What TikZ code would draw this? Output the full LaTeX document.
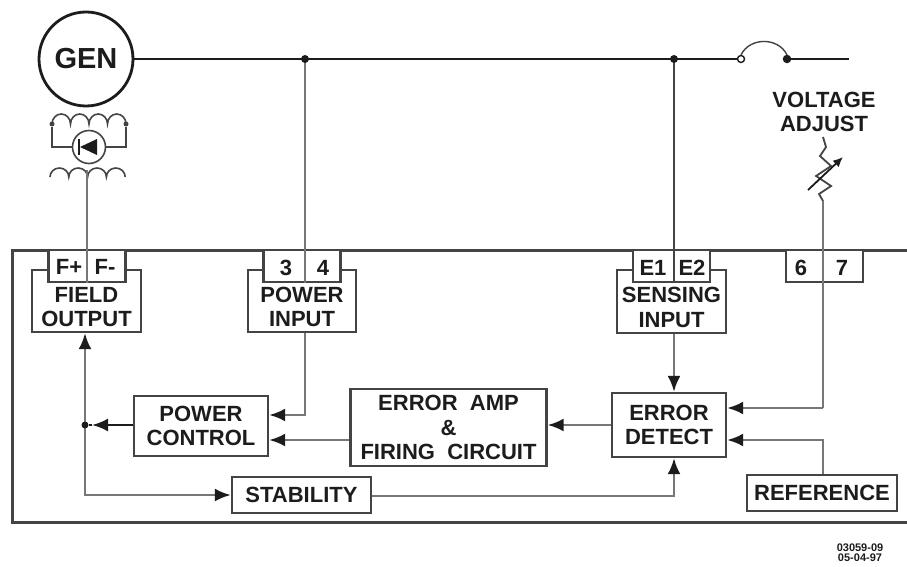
\documentclass[tikz,border=0pt]{standalone}
\usepackage{fontspec}
\setmainfont{Liberation Sans}
\usetikzlibrary{arrows.meta,calc}
\definecolor{ink}{HTML}{1C1C1C}
\definecolor{wire}{HTML}{777777}
\definecolor{edge}{HTML}{444444}
\tikzset{
  x=1pt,y=-1pt,
  bigfont/.style={font=\fontsize{22}{24.5}\selectfont\bfseries},
  boxbase/.style={draw=edge,line width=2.4pt,fill=white,inner sep=0pt,text=ink,align=center,bigfont},
  rectbox/.style 2 args={boxbase,minimum width=#1,minimum height=#2},
  terminal/.style={draw=edge,line width=2.4pt,fill=white,inner sep=0pt,minimum width=77pt,minimum height=32pt},
  termtext/.style={text=ink,inner sep=0pt,bigfont},
  blocktext/.style={text=ink,inner sep=0pt,align=center,bigfont},
  busline/.style={draw=ink,line width=2.8pt},
  wireline/.style={draw=wire,line width=2.4pt},
  sigline/.style={draw=wire,line width=2.4pt,-{Latex[length=16pt,width=13pt,color=ink,fill=ink]}},
  junction/.style={circle,fill=ink,inner sep=0pt,minimum size=8pt},
  contact/.style={circle,draw=ink,fill=white,line width=1.4pt,inner sep=0pt,minimum size=7pt},
  coil/.style={draw=edge,line width=1.6pt},
  frame/.style={draw=edge,line width=3pt},
}
\begin{document}
\begin{tikzpicture}
\useasboundingbox[fill=white] (0,0) rectangle (907,567);
% housing
\coordinate (frTR) at (907,250);
\coordinate (frBR) at (907,522);
\draw[frame] (frTR) -- (12,250) -- (12,522) -- (frBR);
% generator
\node[circle,draw=ink,line width=2.8pt,minimum size=94pt,inner sep=0pt,font=\fontsize{29}{30}\selectfont\bfseries,text=ink] (gen) at (86,59) {GEN};
\coordinate (busP) at (305,59);
\coordinate (busS) at (674,59);
\node[contact] (c1) at (741,59) {};
\node[contact,fill=ink] (c2) at (787,59) {};
\coordinate (busE) at (849,59);
\draw[busline] (gen.east) -- (busP) -- (busS) -- (c1.west);
\draw[busline] (c2.east) -- (busE);
\draw[draw=edge,line width=1.4pt] (c1.north) .. controls (750,37) and (778,37) .. (c2.north);
% blocks
\node[rectbox={109pt}{62pt},label={[blocktext,yshift=-6pt]center:FIELD\\OUTPUT}] (field) at (86.5,301) {};
\node[rectbox={108pt}{62pt},label={[blocktext,yshift=-6pt]center:POWER\\INPUT}] (pinput) at (302,301) {};
\node[rectbox={109pt}{63pt},label={[blocktext,yshift=-6pt]center:SENSING\\INPUT}] (sensing) at (671.5,301.5) {};
\node[terminal] (tF) at (87,266) {};
\node[terminal] (tP) at (302,266) {};
\node[terminal] (tE) at (671.5,266) {};
\node[terminal] (tV) at (824.5,266) {};
\node[termtext] (lFp) at (69,267) {F+};
\node[termtext] (lFm) at (105,267) {F-};
\node[termtext] (l3) at (286,268) {3};
\node[termtext] (l4) at (323,268) {4};
\node[termtext] (lE1) at (653,268) {E1};
\node[termtext] (lE2) at (692,268) {E2};
\node[termtext] (l6) at (801,268) {6};
\node[termtext] (l7) at (842,268) {7};
\node[rectbox={134pt}{60pt}] (pctl) at (201,426) {POWER\\CONTROL};
\node[rectbox={196pt}{77pt}] (eamp) at (448.5,427.5) {ERROR\ \ AMP\\\&\\FIRING\ \ CIRCUIT};
\node[rectbox={114pt}{64pt}] (edet) at (669,425) {ERROR\\DETECT};
\node[rectbox={139pt}{36pt}] (stab) at (301.5,495) {STABILITY};
\node[rectbox={150pt}{36pt}] (refb) at (822,493) {REFERENCE};
% exciter
\coordinate (ca) at (52,124);
\coordinate (cb) at (126,124);
\node[circle,draw=edge,line width=1.6pt,minimum size=33pt,inner sep=0pt] (rect) at (89,147) {};
\draw[coil] (ca) arc[start angle=180,end angle=0,x radius=9.25pt,y radius=10pt]
  arc[start angle=180,end angle=0,x radius=9.25pt,y radius=10pt]
  arc[start angle=180,end angle=0,x radius=9.25pt,y radius=10pt]
  arc[start angle=180,end angle=0,x radius=9.25pt,y radius=10pt];
\node[circle,fill=edge,inner sep=0pt,minimum size=5pt] (da) at (ca) {};
\node[circle,fill=edge,inner sep=0pt,minimum size=5pt] (db) at (cb) {};
\draw[coil] (da) |- (rect.west);
\draw[coil] (db) |- (rect.east);
\fill[ink] (80,147) -- (97,139) -- (97,155) -- cycle;
\draw[ink,line width=1.8pt] (79,139) -- (79,155);
\coordinate (cl) at (50,177);
\draw[coil] (cl) arc[start angle=180,end angle=0,x radius=9.4pt,y radius=9pt]
  arc[start angle=180,end angle=0,x radius=9.4pt,y radius=9pt]
  arc[start angle=180,end angle=0,x radius=9.4pt,y radius=9pt]
  arc[start angle=180,end angle=0,x radius=9.4pt,y radius=9pt];
\coordinate (coilTap) at (87,170);
% wires through terminals
\draw[wireline] (coilTap) -- (tF.south -| coilTap);
\draw[wireline] (busP) -- (tP.south -| busP);
\draw[draw=edge,line width=2.4pt] (busS) -- (tE.south -| busS);
\node[junction] (jP) at (busP) {};
\node[junction] (jS) at (busS) {};
% voltage adjust
\node[blocktext] (vadj) at (824,112) {VOLTAGE\\ADJUST};
\coordinate (rTop) at (823,137);
\coordinate (rBot) at (823,201);
\draw[draw=edge,line width=1.8pt,line join=miter] (rTop) -- (826,147) -- (820,156) -- (831,166) -- (816,176) -- (831,186) -- (819,194) -- (rBot);
\coordinate (vaS) at (808,190);
\coordinate (vaE) at (843,157);
\draw[draw=ink,line width=1.8pt,-{Latex[length=10pt,width=9pt]}] (vaS) -- (vaE);
\coordinate (sev) at (823,408);
\draw[wireline] (rBot) -- (sev);
% signals
\coordinate (j1) at (85,425);
\coordinate (jt) at (92,425);
\coordinate (pw) at (305,415);
\coordinate (sb) at (85,495);
\draw[sigline] (pinput.south -| pw) |- (pctl.east |- pw);
\draw[sigline] (eamp.west |- 0,440) -- (pctl.east |- 0,440);
\draw[sigline] (edet.west) -- (eamp.east |- edet.west);
\draw[sigline] (sensing.south -| busS) -- (edet.north -| busS);
\draw[sigline] (sev) -- (edet.east |- sev);
\coordinate (rf) at (823,440);
\draw[sigline] (refb.north -| rf) -- (rf) -- (edet.east |- rf);
\draw[sigline] (sb) -- (j1) -- (field.south -| j1);
\draw[sigline] (j1) |- (stab.west |- sb);
\coordinate (sr) at (674,496);
\draw[sigline] (stab.east |- sr) -- (sr) -- (edet.south -| sr);
\draw[draw=ink,line width=2.4pt,-{Latex[length=16pt,width=13pt]}] (pctl.west |- j1) -- (jt);
\node[circle,fill=ink,inner sep=0pt,minimum size=7pt] (jj) at (j1) {};
\draw[draw=ink,line width=2.4pt] (jt) -- (jj);
% drawing code
\node[text=ink,inner sep=0pt,align=center,font=\fontsize{11}{10}\selectfont\bfseries] (code) at (860,553) {03059-09\\05-04-97};
\end{tikzpicture}
\end{document}
